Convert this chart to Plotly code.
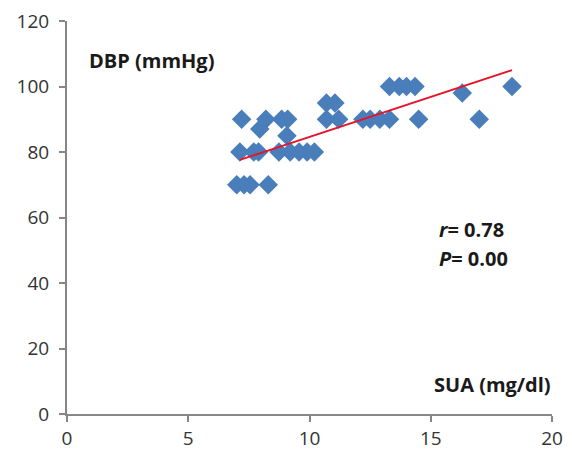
import plotly.graph_objects as go

# serum uric acid (mg/dl) vs diastolic blood pressure (mmHg)
sua = [7.0, 7.3, 7.55, 8.3,
       7.13, 7.7, 7.9, 8.74, 9.2, 9.57, 9.9, 10.2,
       9.07, 7.95,
       7.2, 8.2, 8.85, 9.1, 10.7, 11.2, 12.2, 12.5, 12.9, 13.3, 14.5, 17.0,
       10.7, 11.05, 16.3,
       13.3, 13.7, 14.0, 14.35, 18.35]
dbp = [70, 70, 70, 70,
       80, 80, 80, 80, 80, 80, 80, 80,
       85, 87,
       90, 90, 90, 90, 90, 90, 90, 90, 90, 90, 90, 90,
       95, 95, 98,
       100, 100, 100, 100, 100]

trend_x = [7.13, 18.35]
trend_y = [77.6, 105.0]

font = "Open Sans"

fig = go.Figure()
fig.add_trace(go.Scatter(x=sua, y=dbp, mode="markers",
                         marker=dict(symbol="diamond", size=15, color="#4a7ebb",
                                     line=dict(width=0))))
fig.add_trace(go.Scatter(x=trend_x, y=trend_y, mode="lines",
                         line=dict(color="#e3152b", width=2)))

fig.update_layout(
    width=572, height=458,
    margin=dict(l=59, r=28, t=13, b=52),
    plot_bgcolor="white", paper_bgcolor="white",
    showlegend=False,
    font=dict(family=font, size=19, color="#333333"),
)
fig.update_xaxes(range=[0, 20], tickvals=[0, 5, 10, 15, 20], showgrid=False, zeroline=False,
                 showline=True, linecolor="#868686", linewidth=2, automargin=False,
                 ticks="outside", ticklen=6, tickcolor="#868686", tickwidth=2,
                 ticklabeloverflow="allow")
fig.update_yaxes(range=[0, 120], tickvals=[0, 20, 40, 60, 80, 100, 120], showgrid=False,
                 zeroline=False, showline=True, linecolor="#868686", linewidth=2,
                 automargin=False, ticks="outside", ticklen=6, tickcolor="#868686",
                 tickwidth=2, ticklabelstandoff=6, ticklabeloverflow="allow")

fig.add_annotation(x=0.82, y=108, text="<b>DBP (mmHg)</b>", showarrow=False,
                   xanchor="left", font=dict(size=20, color="#1a1a1a"))
fig.add_annotation(x=15.05, y=8.9, text="<b>SUA (mg/dl)</b>", showarrow=False,
                   xanchor="left", font=dict(size=20, color="#1a1a1a"))
fig.add_annotation(x=15.26, y=56.2, text="<b><i>r</i>= 0.78</b>", showarrow=False,
                   xanchor="left", font=dict(size=20, color="#1a1a1a"))
fig.add_annotation(x=15.26, y=47.6, text="<b><i>P</i>= 0.00</b>", showarrow=False,
                   xanchor="left", font=dict(size=20, color="#1a1a1a"))

fig.write_html("out.html")
